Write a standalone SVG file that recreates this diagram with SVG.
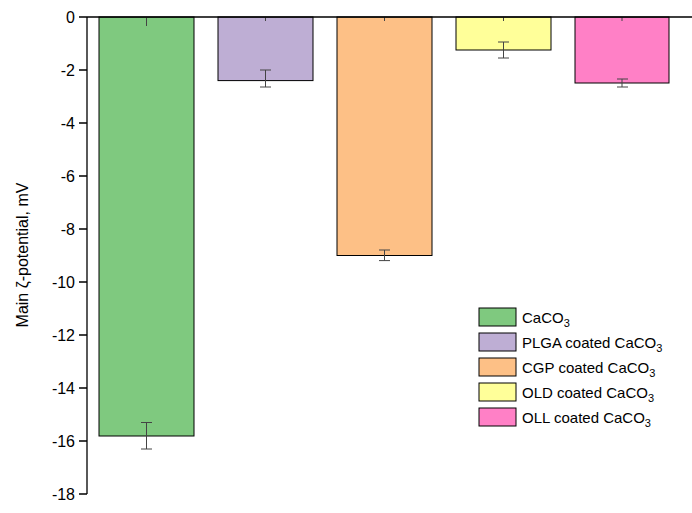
<svg xmlns="http://www.w3.org/2000/svg" width="692" height="513" viewBox="0 0 692 513">
<style>
text{font-family:"Liberation Sans",Arial,sans-serif;font-size:16px;fill:#000}
.bar{stroke:#000;stroke-width:1}
.ax{stroke:#000;stroke-width:1.3;fill:none}
.err{stroke:#444;stroke-width:1;fill:none}
.lt{font-size:15px}
</style>
<rect width="692" height="513" fill="#fff"/>
<g id="bars">
<rect id="b1" class="bar" x="99" y="17" width="95" height="419" fill="#7fc97f"/>
<rect id="b2" class="bar" x="218" y="17" width="95" height="63.6" fill="#beaed4"/>
<rect id="b3" class="bar" x="337" y="17" width="95" height="238.5" fill="#fdc086"/>
<rect id="b4" class="bar" x="456" y="17" width="95" height="33" fill="#ffff99"/>
<rect id="b5" class="bar" x="575" y="17" width="94" height="66" fill="#ff80c6"/>
</g>
<g id="errors" class="err">
<path d="M146.5 17v9M141 449h11M146.5 449v-26.5M141 422.5h11"/>
<path d="M265.5 17v4M260 70h11M265.5 70v17M260 87h11"/>
<path d="M384.5 17v4M379 250h11M384.5 250v10.6M379 260.6h11"/>
<path d="M503.5 17v4M498 42h11M503.5 42v16M498 58h11"/>
<path d="M622 17v4M617 79h11M622 79v8M617 87h11"/>
</g>
<g id="axis" class="ax">
<path d="M87 17H692M87 17V494"/>
<path d="M79 17h8M79 70h8M79 123h8M79 176h8M79 229h8M79 282h8M79 335h8M79 388h8M79 441h8M79 494h8"/>
</g>
<g id="ticklabels" text-anchor="end">
<text x="75" y="23">0</text><text x="75" y="76">-2</text><text x="75" y="129">-4</text><text x="75" y="182">-6</text><text x="75" y="235">-8</text>
<text x="75" y="288">-10</text><text x="75" y="341">-12</text><text x="75" y="394">-14</text><text x="75" y="447">-16</text><text x="75" y="500">-18</text>
</g>
<text id="ytitle" transform="translate(28 255) rotate(-90)" text-anchor="middle" font-size="17">Main ζ-potential, mV</text>
<g id="legend">
<rect class="bar" x="479" y="308" width="37" height="18" fill="#7fc97f"/>
<rect class="bar" x="479" y="333" width="37" height="18" fill="#beaed4"/>
<rect class="bar" x="479" y="358" width="37" height="18" fill="#fdc086"/>
<rect class="bar" x="479" y="383" width="37" height="18" fill="#ffff99"/>
<rect class="bar" x="479" y="408" width="37" height="18" fill="#ff80c6"/>
<text class="lt" x="522" y="323">CaCO<tspan font-size="11" dy="4">3</tspan></text>
<text class="lt" x="522" y="348">PLGA coated CaCO<tspan font-size="11" dy="4">3</tspan></text>
<text class="lt" x="522" y="373">CGP coated CaCO<tspan font-size="11" dy="4">3</tspan></text>
<text class="lt" x="522" y="398">OLD coated CaCO<tspan font-size="11" dy="4">3</tspan></text>
<text class="lt" x="522" y="423">OLL coated CaCO<tspan font-size="11" dy="4">3</tspan></text>
</g>
</svg>
